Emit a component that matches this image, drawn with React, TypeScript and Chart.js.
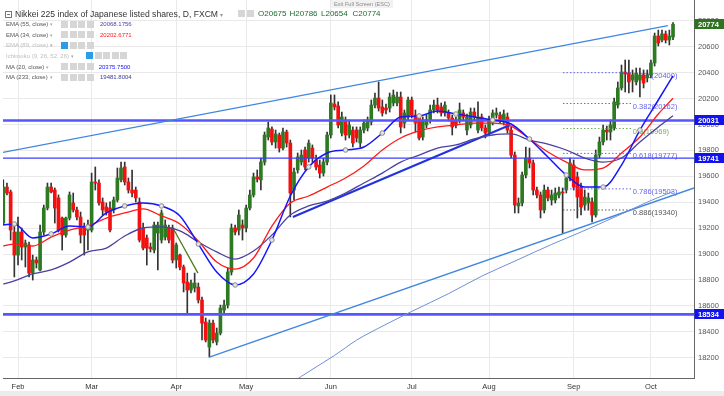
import React, { useEffect, useRef } from 'react';
import { Chart, registerables } from 'chart.js';

Chart.register(...registerables);

const FONT = '"Liberation Sans", Arial, sans-serif';

// ---------- data ----------
// trading bars, index -4 (late Jan) .. 178 (early Oct); index 0 = 1 Feb
const firstBar = -4;
const opens = [
  19239, 19517, 19479, 19170, 18992, 19170, 19054, 19070, 18853, 18954,
  18877, 19170, 19355, 19517, 19494, 19433, 19278, 19147, 19278, 19394,
  19340, 19286, 19201, 19185, 19185, 19556, 19548, 19402, 19363, 19355,
  19340, 19417, 19572, 19672, 19556, 19494, 19494, 19402, 19201, 19124,
  19054, 19031, 19162, 19108, 19131, 19201, 19201, 18954, 18992, 18900,
  18784, 18722, 18738, 18745, 18645, 18475, 18282, 18467, 18321, 18390,
  18568, 18606, 18861, 19201, 19185, 19224, 19201, 19355, 19456, 19595,
  19572, 19710, 19903, 19965, 19865, 19919, 19818, 19942, 19857, 19494,
  19649, 19710, 19803, 19741, 19818, 19726, 19687, 19625, 19710, 19919,
  20158, 20143, 19934, 20035, 19919, 19957, 19957, 19857, 19957, 19973,
  20019, 20150, 20204, 20135, 20127, 20127, 20166, 20166, 20212, 20011,
  20058, 20189, 20073, 20058, 19903, 19996, 20035, 20112, 20150, 20135,
  20089, 20089, 20050, 20035, 20035, 20089, 19957, 19996, 20096, 19957,
  20058, 19973, 19942, 20019, 20073, 20073, 20019, 20058, 19957, 19764,
  19371, 19394, 19610, 19741, 19703, 19494, 19456, 19340, 19494, 19417,
  19417, 19456, 19479, 19494, 19587, 19687, 19595, 19517, 19378, 19394,
  19402, 19301, 19764, 19865, 19957, 19942, 19973, 20150, 20282, 20405,
  20397, 20343, 20328, 20343, 20382, 20359, 20382, 20475, 20683, 20652,
  20699, 20652, 20675,
];
const highs = [
  19572, 19548, 19494, 19239, 19286, 19201, 19108, 19093, 18992, 18977,
  19224, 19378, 19548, 19548, 19510, 19456, 19286, 19286, 19479, 19471,
  19363, 19324, 19239, 19263, 19625, 19672, 19572, 19433, 19394, 19402,
  19440, 19664, 19710, 19710, 19587, 19649, 19517, 19433, 19239, 19147,
  19085, 19247, 19247, 19340, 19263, 19224, 19224, 19085, 19000, 18915,
  18853, 18799, 18853, 18776, 18668, 18506, 18491, 18491, 18429, 18606,
  18645, 18892, 19232, 19224, 19340, 19263, 19378, 19494, 19625, 19649,
  19741, 19942, 20019, 19981, 19957, 19934, 19973, 19957, 19880, 19664,
  19780, 19803, 19826, 19880, 19842, 19764, 19726, 19741, 19942, 20228,
  20228, 20174, 20096, 20058, 20035, 19981, 19981, 19981, 20035, 20058,
  20189, 20243, 20328, 20189, 20158, 20243, 20266, 20251, 20251, 20112,
  20212, 20212, 20112, 20081, 20058, 20073, 20150, 20189, 20204, 20166,
  20174, 20112, 20073, 20058, 20166, 20112, 20081, 20127, 20127, 20174,
  20081, 19996, 20065, 20112, 20127, 20096, 20112, 20089, 19981, 19788,
  19433, 19633, 19826, 19818, 19726, 19517, 19479, 19533, 19517, 19494,
  19510, 19517, 19510, 19610, 19741, 19726, 19633, 19548, 19494, 19471,
  19433, 19803, 19903, 19996, 19988, 20035, 20204, 20328, 20459, 20498,
  20498, 20421, 20436, 20436, 20421, 20421, 20498, 20706, 20729, 20729,
  20722, 20729, 20786,
];
const lows = [
  19224, 19456, 19108, 18823, 18915, 18954, 18900, 18823, 18799, 18892,
  18870, 19147, 19340, 19471, 19239, 19170, 19031, 19131, 19263, 19324,
  19263, 19085, 18992, 19031, 19170, 19494, 19378, 19301, 19301, 19170,
  19317, 19402, 19556, 19533, 19471, 19440, 19402, 19093, 19031, 18915,
  19016, 19008, 18877, 19085, 19108, 19085, 18931, 18892, 18877, 18707,
  18545, 18699, 18707, 18622, 18336, 18321, 18205, 18313, 18298, 18375,
  18545, 18583, 18838, 19147, 19147, 19108, 19170, 19340, 19440, 19556,
  19494, 19687, 19880, 19842, 19818, 19787, 19803, 19826, 19286, 19417,
  19625, 19687, 19649, 19710, 19710, 19649, 19587, 19602, 19687, 19896,
  20112, 19973, 19911, 19880, 19896, 19826, 19865, 19826, 19934, 19950,
  19996, 20127, 20104, 20065, 20081, 20096, 20143, 20143, 19934, 19973,
  20035, 20050, 19942, 19880, 19880, 19973, 20011, 20089, 20089, 20065,
  20065, 20027, 19919, 19973, 20011, 20035, 19919, 19973, 20035, 19934,
  19950, 19896, 19919, 19996, 20050, 20011, 19996, 19934, 19741, 19317,
  19317, 19371, 19587, 19664, 19456, 19433, 19278, 19317, 19410, 19378,
  19394, 19433, 19162, 19471, 19564, 19494, 19278, 19301, 19340, 19340,
  19247, 19285, 19741, 19842, 19880, 19880, 19957, 20127, 20266, 20251,
  20243, 20251, 20305, 20212, 20282, 20328, 20359, 20451, 20606, 20637,
  20629, 20614, 20654,
];
const closes = [
  19517, 19471, 19185, 18992, 19170, 19054, 19085, 18853, 18954, 18931,
  19170, 19355, 19517, 19479, 19355, 19185, 19147, 19278, 19456, 19340,
  19286, 19147, 19147, 19224, 19556, 19548, 19394, 19340, 19324, 19185,
  19417, 19587, 19664, 19556, 19494, 19471, 19433, 19108, 19046, 19046,
  19040, 19224, 19224, 19317, 19224, 19108, 18954, 19070, 18900, 18776,
  18722, 18776, 18776, 18645, 18467, 18336, 18467, 18336, 18390, 18583,
  18606, 18861, 19201, 19170, 19301, 19201, 19355, 19456, 19595, 19579,
  19710, 19919, 19973, 19865, 19927, 19818, 19942, 19857, 19471, 19633,
  19749, 19764, 19672, 19857, 19741, 19672, 19625, 19710, 19919, 20166,
  20135, 19996, 20058, 19919, 19996, 19857, 19896, 19957, 20011, 20035,
  20150, 20204, 20127, 20089, 20112, 20212, 20228, 20212, 19981, 20089,
  20189, 20073, 20011, 19896, 20035, 20035, 20112, 20150, 20112, 20089,
  20150, 20050, 19981, 19996, 20112, 20058, 20058, 20096, 20058, 20058,
  19973, 19934, 20035, 20089, 20089, 20035, 20081, 19957, 19764, 19378,
  19394, 19610, 19741, 19703, 19494, 19456, 19340, 19494, 19433, 19456,
  19471, 19479, 19471, 19587, 19703, 19517, 19440, 19363, 19440, 19433,
  19301, 19764, 19865, 19957, 19942, 19996, 20174, 20282, 20405, 20390,
  20328, 20382, 20397, 20382, 20320, 20382, 20475, 20683, 20629, 20699,
  20652, 20683, 20774,
];

// month tick labels and the bar index where each month starts
const monthLabels = ['Feb', 'Mar', 'Apr', 'May', 'Jun', 'Jul', 'Aug', 'Sep', 'Oct'];
const monthIdx = [0, 20, 43, 62, 85, 107, 128, 151, 172];

// moving averages at these bar indices
const maKnots = [-4, -1, 4, 9, 14, 19, 24, 29, 34, 39, 44, 49, 54, 59, 64, 69, 74, 79, 84, 89,
  94, 99, 104, 109, 114, 119, 124, 129, 134, 139, 144, 149, 154, 159, 164, 169, 174, 178];
const ma20 = [19224, 19232, 19124, 19155, 19216, 19209, 19317, 19371, 19394, 19371,
  19294, 19077, 18861, 18761, 18846, 19108, 19448, 19672, 19780, 19803,
  19826, 19934, 20058, 20066, 20104, 20081, 20058, 20035, 20004, 19888,
  19749, 19610, 19517, 19517, 19687, 19957, 20189, 20376];
const ema34 = [19062, 19077, 19062, 19131, 19185, 19216, 19278, 19317, 19348, 19294,
  19232, 19100, 18938, 18884, 18969, 19216, 19394, 19448, 19517, 19587,
  19680, 19803, 19896, 19950, 19981, 19996, 20011, 20011, 19988, 19888,
  19788, 19710, 19649, 19664, 19780, 19903, 20081, 20203];
const ema55 = [18768, 18792, 18846, 18877, 18938, 19016, 19046, 19139, 19201, 19209,
  19178, 19093, 19016, 18961, 19023, 19147, 19301, 19371, 19409, 19471,
  19548, 19625, 19710, 19764, 19818, 19842, 19888, 19919, 19927, 19880,
  19849, 19803, 19741, 19710, 19741, 19865, 19981, 20068];
const ma233Knots = [74, 77, 86, 92, 100, 107, 117, 126, 135, 145, 153, 164, 172, 178];
const ma233 = [17997, 18056, 18217, 18335, 18457, 18557, 18694, 18829, 18945, 19074, 19170, 19309, 19413, 19482];
const ma20Markers = [-1, 9, 19, 29, 39, 49, 59, 69, 79, 89, 99, 109, 119, 129, 139, 149, 159, 169];

// drawn studies: [barIndex, price] end points
const upperChannel = [[-5, 19780], [176.6, 20764]];
const lowerChannel = [[52, 18205], [183.7, 19510]];
const supportLine = [[74.7, 19286], [133.7, 19996]];
const greenLine = [[42.1, 19201], [48.9, 18853]];
const hLevels = [20031, 19741, 18534];
const fibRatios = ['0.236', '0.382', '0.5', '0.618', '0.786', '0.886'];
const fibLevels = [20400, 20162, 19969, 19777, 19503, 19340];
const fibStart = 148.1;
const fibEnd = 166.8;

// y ticks
const yMin = 18043;
const yMax = 20961;
const yStep = 200;
const xMin = -4.08;
const xMax = 183.7;

// legend
const titleText = 'Nikkei 225 index of Japanese listed shares, D, FXCM';
const ohlcLabels = ['O', 'H', 'L', 'C'];
const ohlcValues = ['20675', '20786', '20654', '20774'];
const indicatorNames = ['EMA (55, close)', 'EMA (34, close)', 'EMA (89, close)', 'Ichimoku (9, 26, 52, 26)', 'MA (20, close)', 'MA (233, close)'];
const indicatorValues = ['20068.1756', '20202.6771', '', '', '20375.7500', '19481.8004'];

// ---------- styles ----------
const GREEN = '#2e7a22';
const RED = '#f51010';
const fibColors = ['#6464ee', '#6464ee', '#6fae5c', '#6464ee', '#6464ee', '#555555'];
const hColors = ['#5656ff', '#3c3cff', '#5656ff'];
const hWidths = [2.6, 1.2, 2.6];
const indicatorColors = ['#4b3fa0', '#ff1a1a', '', '', '#1515ff', '#3a3a9a'];

const overlayPlugin = {
  id: 'overlay',
  beforeDatasetsDraw(chart: any) {
    const { ctx, scales } = chart;
    const x = scales.x;
    const y = scales.y;
    ctx.save();
    ctx.font = `7.5px ${FONT}`;
    ctx.textAlign = 'left';
    ctx.textBaseline = 'middle';
    fibLevels.forEach((v, i) => {
      ctx.fillStyle = fibColors[i];
      ctx.fillText(`${fibRatios[i]}(${v})`, x.getPixelForValue(fibEnd) + 1, y.getPixelForValue(v) + 3);
    });
    ctx.restore();
  },
  afterDraw(chart: any) {
    const { ctx, chartArea, scales } = chart;
    const y = scales.y;
    const badgeValues = [closes[closes.length - 1], ...hLevels];
    const badgeColors = ['#2f7222', '#1212ee', '#1212ee', '#1212ee'];
    ctx.save();
    ctx.font = `bold 7.5px ${FONT}`;
    ctx.textBaseline = 'middle';
    ctx.textAlign = 'left';
    badgeValues.forEach((v, i) => {
      const py = y.getPixelForValue(v);
      ctx.fillStyle = badgeColors[i];
      ctx.fillRect(chartArea.right + 0.5, Math.round(py) - 5, 30, 10);
      ctx.fillStyle = '#ffffff';
      ctx.fillText(String(v), chartArea.right + 4, py + 0.5);
    });
    ctx.restore();
  },
};

function Box({ blue }: { blue?: boolean }) {
  return (
    <span
      style={{
        display: 'inline-block',
        width: 7,
        height: 7,
        marginRight: 1.6,
        background: blue ? '#2c9be8' : '#d6d6d6',
        verticalAlign: 'top',
      }}
    />
  );
}

export default function App() {
  const ref = useRef<HTMLCanvasElement>(null);

  useEffect(() => {
    const canvas = ref.current;
    if (!canvas) return;
    const pts = (xs: number[], ys: number[]) => xs.map((x, i) => ({ x, y: ys[i] }));
    const seg = (a: number[][]) => a.map((p) => ({ x: p[0], y: p[1] }));
    const up = (i: number) => closes[i] >= opens[i];

    const datasets: any[] = [];

    // moving averages (top)
    datasets.push({
      type: 'line', data: pts(maKnots, ma20), borderColor: '#1515ff', borderWidth: 1.5,
      cubicInterpolationMode: 'monotone', fill: false, order: 1,
      pointRadius: (c: any) => (c.raw && ma20Markers.includes(c.raw.x) ? 2.3 : 0),
      pointBackgroundColor: '#e4e4e4', pointBorderColor: '#8a8a8a', pointBorderWidth: 1,
    });
    datasets.push({
      type: 'line', data: pts(maKnots, ema34), borderColor: '#ff1a1a', borderWidth: 1.3,
      cubicInterpolationMode: 'monotone', fill: false, pointRadius: 0, order: 1,
    });
    datasets.push({
      type: 'line', data: pts(maKnots, ema55), borderColor: '#4b3fa0', borderWidth: 1.3,
      cubicInterpolationMode: 'monotone', fill: false, pointRadius: 0, order: 1,
    });
    datasets.push({
      type: 'line', data: pts(ma233Knots, ma233), borderColor: '#6f8fd6', borderWidth: 1,
      cubicInterpolationMode: 'monotone', fill: false, pointRadius: 0, order: 1,
    });

    // drawn trend lines
    datasets.push({ type: 'line', data: seg(upperChannel), borderColor: '#3f86e0', borderWidth: 1.3, pointRadius: 0, order: 2 });
    datasets.push({ type: 'line', data: seg(lowerChannel), borderColor: '#3f86e0', borderWidth: 1.3, pointRadius: 0, order: 2 });
    datasets.push({ type: 'line', data: seg(supportLine), borderColor: '#2233dd', borderWidth: 2, pointRadius: 0, order: 2 });
    datasets.push({ type: 'line', data: seg(greenLine), borderColor: '#4d7c1e', borderWidth: 1.3, pointRadius: 0, order: 2 });

    hLevels.forEach((v, i) => {
      datasets.push({
        type: 'line', data: [{ x: xMin - 2, y: v }, { x: xMax + 2, y: v }],
        borderColor: hColors[i], borderWidth: hWidths[i], pointRadius: 0, order: 2,
      });
    });
    fibLevels.forEach((v, i) => {
      datasets.push({
        type: 'line', data: [{ x: fibStart, y: v }, { x: fibEnd, y: v }],
        borderColor: fibColors[i], borderWidth: 1, borderDash: [1.5, 2], pointRadius: 0, order: 3,
      });
    });

    // candles: wicks + bodies
    datasets.push({
      type: 'bar', data: opens.map((_, i) => ({ x: firstBar + i, y: [lows[i], highs[i]] })),
      backgroundColor: '#333333', barThickness: 1, grouped: false, borderWidth: 0, order: 6,
    });
    datasets.push({
      type: 'bar', data: opens.map((o, i) => ({ x: firstBar + i, y: [o, closes[i]] })),
      backgroundColor: (c: any) => (up(c.dataIndex) ? GREEN : RED),
      barThickness: 3, grouped: false, borderWidth: 0, minBarLength: 1, order: 5,
    });

    const chart = new Chart(canvas, {
      type: 'bar',
      data: { datasets },
      options: {
        animation: false,
        responsive: false,
        devicePixelRatio: 1,
        events: [],
        layout: { padding: { left: 3, top: 0, right: 0, bottom: 0 } },
        plugins: { legend: { display: false }, tooltip: { enabled: false } },
        scales: {
          x: {
            type: 'linear', min: xMin, max: xMax, offset: false,
            grid: { color: '#e9e9e9', drawTicks: false, offset: false },
            border: { color: '#666666' },
            afterBuildTicks: (s: any) => { s.ticks = monthIdx.map((v) => ({ value: v })); },
            afterFit: (s: any) => { s.height = 18; s.paddingLeft = 0; s.paddingRight = 0; },
            ticks: {
              autoSkip: false, maxRotation: 0, padding: 4, color: '#333333',
              font: { family: FONT, size: 7.5 },
              callback: (v: any) => { const i = monthIdx.indexOf(Number(v)); return i >= 0 ? monthLabels[i] : ''; },
            },
          },
          y: {
            type: 'linear', position: 'right', min: yMin, max: yMax,
            grid: { color: '#e9e9e9', drawTicks: false },
            border: { color: '#666666' },
            afterFit: (s: any) => { s.width = 30; s.paddingTop = 0; s.paddingBottom = 0; },
            ticks: {
              stepSize: yStep, includeBounds: false, padding: 4, color: '#555555',
              font: { family: FONT, size: 7.5 },
              callback: (v: any) => String(v),
            },
          },
        },
      } as any,
      plugins: [overlayPlugin],
    } as any);

    return () => chart.destroy();
  }, []);

  const rowTop = (i: number) => 20 + i * 10.65;
  const hidden = (i: number) => indicatorValues[i] === '';

  return (
    <div style={{ position: 'fixed', left: 0, top: 0, width: 724, height: 396, background: '#fff', overflow: 'hidden' }}>
      <canvas ref={ref} width={724} height={396} style={{ position: 'absolute', left: 0, top: 0, width: 724, height: 396 }} />

      {/* title row */}
      <div style={{ position: 'absolute', left: 5, top: 10.5, width: 5, height: 5, border: '0.8px solid #777', boxSizing: 'content-box' }}>
        <div style={{ position: 'absolute', left: 1, top: 2.2, width: 3, height: 0.8, background: '#777' }} />
      </div>
      <div style={{ position: 'absolute', left: 15, top: 8.5, font: `8.6px ${FONT}`, lineHeight: '10px', color: '#333', whiteSpace: 'nowrap' }}>
        {titleText}
        <span style={{ color: '#999', fontSize: 6, marginLeft: 2 }}>▾</span>
      </div>
      <div style={{ position: 'absolute', left: 238, top: 10, lineHeight: 0 }}>
        <Box /><Box />
      </div>
      {ohlcLabels.map((l, i) => (
        <div key={l} style={{ position: 'absolute', left: 258 + i * 31.5, top: 8.8, font: `8px ${FONT}`, lineHeight: '10px', color: '#1f6b2f', whiteSpace: 'nowrap' }}>
          {l}{ohlcValues[i]}
        </div>
      ))}

      {/* indicator rows */}
      {indicatorNames.map((n, i) => (
        <React.Fragment key={n}>
          <div style={{ position: 'absolute', left: 6, top: rowTop(i), font: `6px ${FONT}`, lineHeight: '8px', color: hidden(i) ? '#bdbdbd' : '#555', whiteSpace: 'nowrap' }}>
            {n}<span style={{ color: '#aaa', fontSize: 5, marginLeft: 2 }}>▾</span>
          </div>
          <div style={{ position: 'absolute', left: i === 3 ? 86 : 61, top: rowTop(i) + 0.5, lineHeight: 0, whiteSpace: 'nowrap' }}>
            {Array.from({ length: i === 3 ? 5 : 4 }).map((_, k) => (
              <Box key={k} blue={hidden(i) && k === 0} />
            ))}
          </div>
          {indicatorValues[i] !== '' && (
            <div style={{ position: 'absolute', left: i === 4 ? 98.7 : 100, top: rowTop(i), font: `6px ${FONT}`, lineHeight: '8px', color: indicatorColors[i], whiteSpace: 'nowrap' }}>
              {indicatorValues[i]}
            </div>
          )}
        </React.Fragment>
      ))}

      {/* full-screen hint */}
      <div style={{ position: 'absolute', left: 331, top: 0, height: 8, padding: '0 3px', background: '#f2f2f2', font: `5.6px ${FONT}`, lineHeight: '8px', color: '#8a8a8a', whiteSpace: 'nowrap' }}>
        Exit Full Screen (ESC)
      </div>

      {/* bottom toolbar strip */}
      <div style={{ position: 'absolute', left: 0, top: 391, width: 724, height: 5, background: '#ececec' }} />
    </div>
  );
}
